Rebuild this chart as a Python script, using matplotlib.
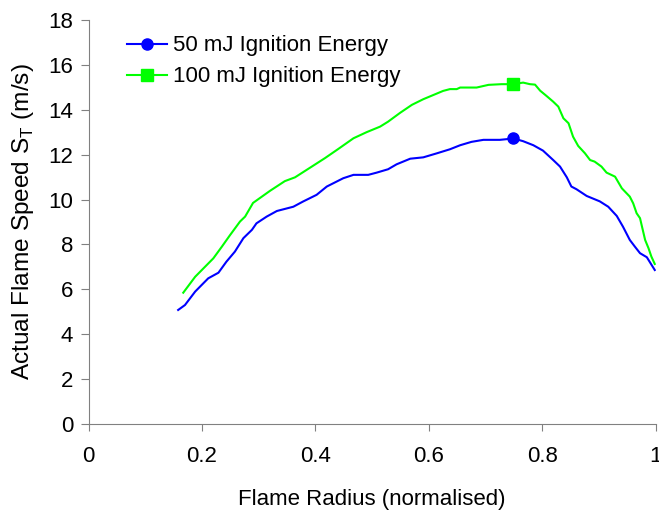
import matplotlib
matplotlib.use('Agg')
import matplotlib.pyplot as plt

plt.rcParams['font.family'] = ['Liberation Sans', 'DejaVu Sans']
plt.rcParams['mathtext.fontset'] = 'custom'
plt.rcParams['mathtext.rm'] = 'Liberation Sans'

# 50 mJ ignition energy
radius_50 = [0.158, 0.170, 0.188, 0.211, 0.229, 0.243, 0.258, 0.273, 0.288, 0.296,
             0.314, 0.332, 0.361, 0.378, 0.402, 0.420, 0.449, 0.467, 0.493, 0.508,
             0.528, 0.543, 0.567, 0.590, 0.614, 0.637, 0.655, 0.675, 0.696, 0.725,
             0.749, 0.766, 0.784, 0.801, 0.819, 0.831, 0.843, 0.851, 0.860, 0.878,
             0.901, 0.916, 0.931, 0.942, 0.954, 0.963, 0.972, 0.984, 0.998]
speed_50 = [5.08, 5.30, 5.90, 6.49, 6.74, 7.23, 7.68, 8.28, 8.65, 8.94,
            9.24, 9.49, 9.68, 9.91, 10.21, 10.58, 10.95, 11.10, 11.10, 11.20,
            11.35, 11.57, 11.82, 11.88, 12.06, 12.24, 12.42, 12.57, 12.66, 12.66,
            12.72, 12.60, 12.42, 12.18, 11.76, 11.47, 10.99, 10.58, 10.46, 10.16,
            9.92, 9.68, 9.27, 8.79, 8.20, 7.90, 7.61, 7.43, 6.86]

# 100 mJ ignition energy
radius_100 = [0.167, 0.188, 0.220, 0.235, 0.249, 0.267, 0.276, 0.290, 0.320, 0.346,
              0.364, 0.393, 0.417, 0.440, 0.467, 0.490, 0.514, 0.528, 0.549, 0.570,
              0.590, 0.608, 0.625, 0.637, 0.649, 0.655, 0.684, 0.705, 0.728, 0.748,
              0.766, 0.778, 0.787, 0.796, 0.807, 0.819, 0.828, 0.837, 0.846, 0.854,
              0.863, 0.875, 0.884, 0.892, 0.904, 0.913, 0.928, 0.940, 0.954, 0.960,
              0.966, 0.972, 0.981, 0.987, 0.992, 0.998]
speed_100 = [5.85, 6.56, 7.38, 7.90, 8.40, 9.02, 9.24, 9.85, 10.39, 10.82,
             10.99, 11.46, 11.85, 12.25, 12.73, 13.00, 13.25, 13.47, 13.86, 14.22,
             14.47, 14.66, 14.84, 14.92, 14.92, 14.99, 14.99, 15.11, 15.14, 15.14,
             15.21, 15.14, 15.12, 14.85, 14.62, 14.36, 14.14, 13.62, 13.40, 12.80,
             12.39, 12.06, 11.76, 11.69, 11.47, 11.20, 11.02, 10.50, 10.13, 9.83,
             9.39, 9.17, 8.20, 7.83, 7.46, 7.13]

marker_idx_50 = radius_50.index(0.749)
marker_idx_100 = radius_100.index(0.748)

FS = 16

fig = plt.figure(figsize=(6.59, 5.15), dpi=100)
ax = fig.add_axes([0.1343, 0.1767, 0.861, 0.7845])

ax.plot(radius_50, speed_50, '-', color='#0000FF', linewidth=1.5,
        marker='o', markersize=8, markevery=[marker_idx_50],
        label='50 mJ Ignition Energy')
ax.plot(radius_100, speed_100, '-', color='#00FF00', linewidth=1.5,
        marker='s', markersize=8, markevery=[marker_idx_100],
        label='100 mJ Ignition Energy')

ax.set_xlim(0, 1)
ax.set_ylim(0, 18)
ax.set_xticks([0, 0.2, 0.4, 0.6, 0.8, 1])
ax.set_xticklabels(['0', '0.2', '0.4', '0.6', '0.8', '1'])
ax.set_yticks(range(0, 19, 2))

for side in ['top', 'right']:
    ax.spines[side].set_visible(False)
for side in ['left', 'bottom']:
    ax.spines[side].set_color('#808080')
ax.tick_params(axis='both', colors='#808080', labelcolor='black', labelsize=FS)
ax.tick_params(axis='y', length=6, pad=5)
ax.tick_params(axis='x', length=5, pad=11)

ax.set_xlabel('Flame Radius (normalised)', fontsize=FS, labelpad=16)
ax.set_ylabel('Actual Flame Speed S$_\\mathrm{T}$ (m/s)', fontsize=17.6, labelpad=9)

ax.legend(loc='upper left', bbox_to_anchor=(0.045, 0.995), frameon=False,
          fontsize=FS, handlelength=1.8, handletextpad=0.25, labelspacing=0.45,
          borderaxespad=0.2)

fig.savefig('out.png', dpi=100)
